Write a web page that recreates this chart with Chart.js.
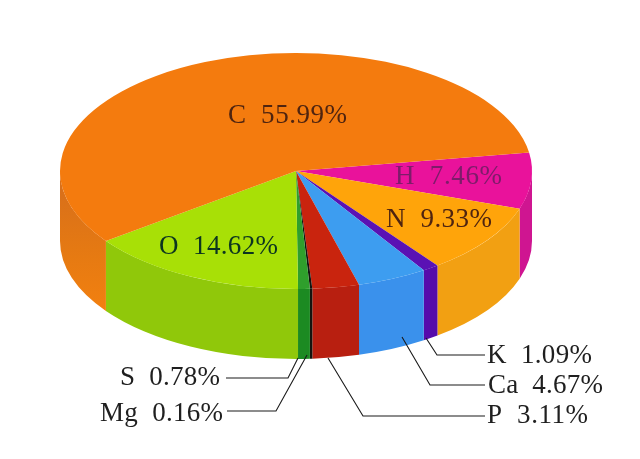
<!DOCTYPE html>
<html>
<head>
<meta charset="utf-8">
<style>html,body{margin:0;padding:0;background:#fff}canvas{display:block}</style>
<script src="https://cdn.jsdelivr.net/npm/chart.js@4"></script>
</head>
<body>
<canvas id="c" width="640" height="459"></canvas>
<script>
const elements = ['H','N','K','Ca','P','Mg','S','O','C'];
const percents = [7.46,9.33,1.09,4.67,3.11,0.16,0.78,14.62,55.99];
const topColors = ['#e9129b','#ffa40a','#5a12b4','#3d9df0','#c9240e','#14140f','#2f9f2c','#a8e006','#f47b0e'];
const sideColors = ['#cf1591','#f2a012','#560cab','#3a91ec','#b81f10','#14140f','#1c8a22','#90c80a','#ec7d10'];
const textColors = {H:'#7d1c6a',N:'#4f2410',K:'#1f1f1f',Ca:'#1f1f1f',P:'#1f1f1f',Mg:'#1f1f1f',S:'#1f1f1f',O:'#0c3520',C:'#4f2410'};

const view = {cx:296, cy:171, rx:236, squash:0.5, depth:70};
const labelLayout = {
  C:{x:228,y:123,w:119}, O:{x:159,y:254,w:119}, H:{x:395,y:184,w:107}, N:{x:386,y:227,w:106},
  K:{x:487,y:363,w:105}, Ca:{x:488,y:393,w:115}, P:{x:487,y:423,w:101}, S:{x:120,y:385,w:100}, Mg:{x:100,y:421,w:123}
};
const leaders = [
  [[426,338],[437,355],[485,355]],
  [[402,337],[430,385],[485,385]],
  [[328,358],[363,416],[485,416]],
  [[298,358],[288,378],[226,378]],
  [[307,355],[276,411],[227,411]]
];

const pie3d = {
  id:'pie3d',
  beforeDatasetsDraw(chart){
    const ctx = chart.ctx;
    const arcs = chart.getDatasetMeta(0).data;
    const c = arcs[0].getProps(['x','y'],true);
    const cWall = ctx.createLinearGradient(0,190,0,310);
    cWall.addColorStop(0,'#d9701a'); cWall.addColorStop(0.55,'#e67a12'); cWall.addColorStop(1,'#f28010');
    arcs.forEach((arc,i)=>{
      const p = arc.getProps(['startAngle','endAngle','outerRadius','x','y'],true);
      const a0 = Math.max(p.startAngle,0), a1 = Math.min(p.endAngle,Math.PI);
      if(a1<=a0) return;
      ctx.save();
      ctx.translate(view.cx,view.cy); ctx.scale(1,view.squash); ctx.translate(-c.x,-c.y);
      ctx.beginPath();
      ctx.arc(p.x,p.y,p.outerRadius,a0,a1);
      ctx.translate(0,view.depth/view.squash);
      ctx.arc(p.x,p.y,p.outerRadius,a1,a0,true);
      ctx.closePath();
      ctx.restore();
      ctx.fillStyle = elements[i]==='C' ? cWall : sideColors[i];
      ctx.fill();
    });
    ctx.save();
    ctx.translate(view.cx,view.cy); ctx.scale(1,view.squash); ctx.translate(-c.x,-c.y);
  },
  afterDatasetsDraw(chart){
    const ctx = chart.ctx;
    ctx.restore();
    ctx.strokeStyle='#1a1a1a'; ctx.lineWidth=1.1;
    leaders.forEach(l=>{
      ctx.beginPath();
      l.forEach((pt,i)=> i?ctx.lineTo(pt[0],pt[1]):ctx.moveTo(pt[0],pt[1]));
      ctx.stroke();
    });
    ctx.textBaseline='alphabetic'; ctx.textAlign='left';
    ctx.font='27px "Liberation Serif"';
    elements.forEach((el,i)=>{
      const t = el+'  '+percents[i].toFixed(2)+'%';
      const L = labelLayout[el];
      ctx.letterSpacing='0px';
      const w = ctx.measureText(t).width;
      ctx.letterSpacing=((L.w-w)/(t.length-1)).toFixed(2)+'px';
      ctx.fillStyle=textColors[el];
      ctx.fillText(t,L.x,L.y);
    });
    ctx.letterSpacing='0px';
  }
};

new Chart(document.getElementById('c'),{
  type:'pie',
  data:{labels:elements,datasets:[{data:percents,backgroundColor:topColors,borderWidth:0,clip:false}]},
  options:{
    responsive:false,animation:false,
    rotation:81,radius:view.rx,
    layout:{padding:0},
    plugins:{legend:{display:false},tooltip:{enabled:false}}
  },
  plugins:[pie3d]
});
</script>
</body>
</html>
